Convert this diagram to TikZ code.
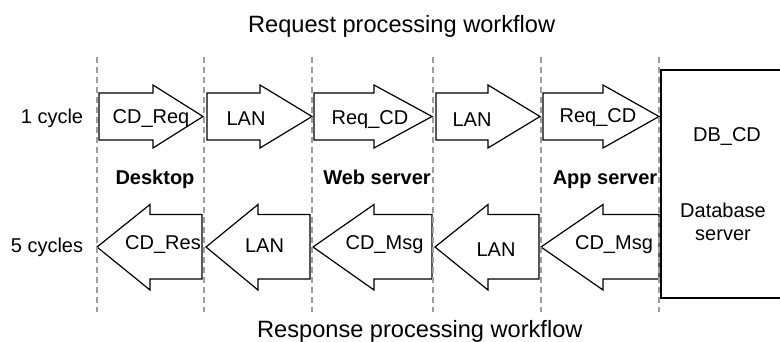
\documentclass[tikz,border=0pt]{standalone}
\usepackage{fontspec}
\setmainfont{Liberation Sans}

% right-pointing request arrow: left end, head base, tip
\newcommand\reqarrow[3]{%
  \draw[flow] (#1,93) -- (#2,93) -- (#2,85) -- (#3,116.5) -- (#2,148) -- (#2,140) -- (#1,140) -- cycle;}
% left-pointing response arrow: tip, head base, right end
\newcommand\resarrow[3]{%
  \draw[flow] (#3,214.5) -- (#2,214.5) -- (#2,204.5) -- (#1,247) -- (#2,290) -- (#2,279) -- (#3,279) -- cycle;}

\begin{document}
\begin{tikzpicture}[x=1pt,y=-1pt,
  flow/.style={draw=black,line width=1.2pt,fill=white,line join=miter},
  lane/.style={draw=black!38,line width=1.2pt,dash pattern=on 6pt off 4pt},
  lbl/.style={font=\fontsize{20}{23}\selectfont,anchor=base,inner sep=0pt},
  tier/.style={lbl,font=\fontsize{20}{23}\selectfont\bfseries},
  heading/.style={font=\fontsize{23.6}{28}\selectfont,anchor=base west,inner sep=0pt}]
\useasboundingbox (0,0) rectangle (780,342);

% headings
\node[heading] (reqtitle) at (248,33) {Request processing workflow};
\node[heading] (restitle) at (257,337) {Response processing workflow};

% database server block (open to the right)
\draw[line width=1.2pt] (782,70) -- (661,70) -- (661,298) -- (782,298);
\node[lbl] (dbcd) at (727,142) {DB\_CD};
\node[lbl,anchor=center,align=center] (dbsrv) at (723,221.6) {Database\\server};

% request row
\reqarrow{99}{153}{203}
\reqarrow{207}{260}{312}
\reqarrow{314}{374}{432}
\reqarrow{436}{488}{540}
\reqarrow{543}{603}{659}
\node[lbl] (cyc1) at (52,124) {1 cycle};
\node[lbl] (rq1) at (151,124) {CD\_Req};
\node[lbl] (rq2) at (246,126) {LAN};
\node[lbl] (rq3) at (370,125) {Req\_CD};
\node[lbl] (rq4) at (472,127) {LAN};
\node[lbl] (rq5) at (598,123) {Req\_CD};

% tiers
\node[tier] (desk) at (155,185) {Desktop};
\node[tier] (web) at (377,185) {Web server};
\node[tier] (app) at (605,185) {App server};

% response row
\resarrow{97}{150}{202}
\resarrow{206}{258}{310}
\resarrow{313}{374}{432}
\resarrow{435}{488}{539}
\resarrow{541}{603}{659}
\node[lbl] (cyc5) at (47,253) {5 cycles};
\node[lbl] (rs1) at (163,250) {CD\_Res};
\node[lbl] (rs2) at (264.5,253) {LAN};
\node[lbl] (rs3) at (384.5,250) {CD\_Msg};
\node[lbl] (rs4) at (496,257) {LAN};
\node[lbl] (rs5) at (614,250) {CD\_Msg};

% swim-lane separators
\foreach \x in {97,204,312,433,541,659}
  \draw[lane] (\x,57) -- (\x,312);
\end{tikzpicture}
\end{document}
